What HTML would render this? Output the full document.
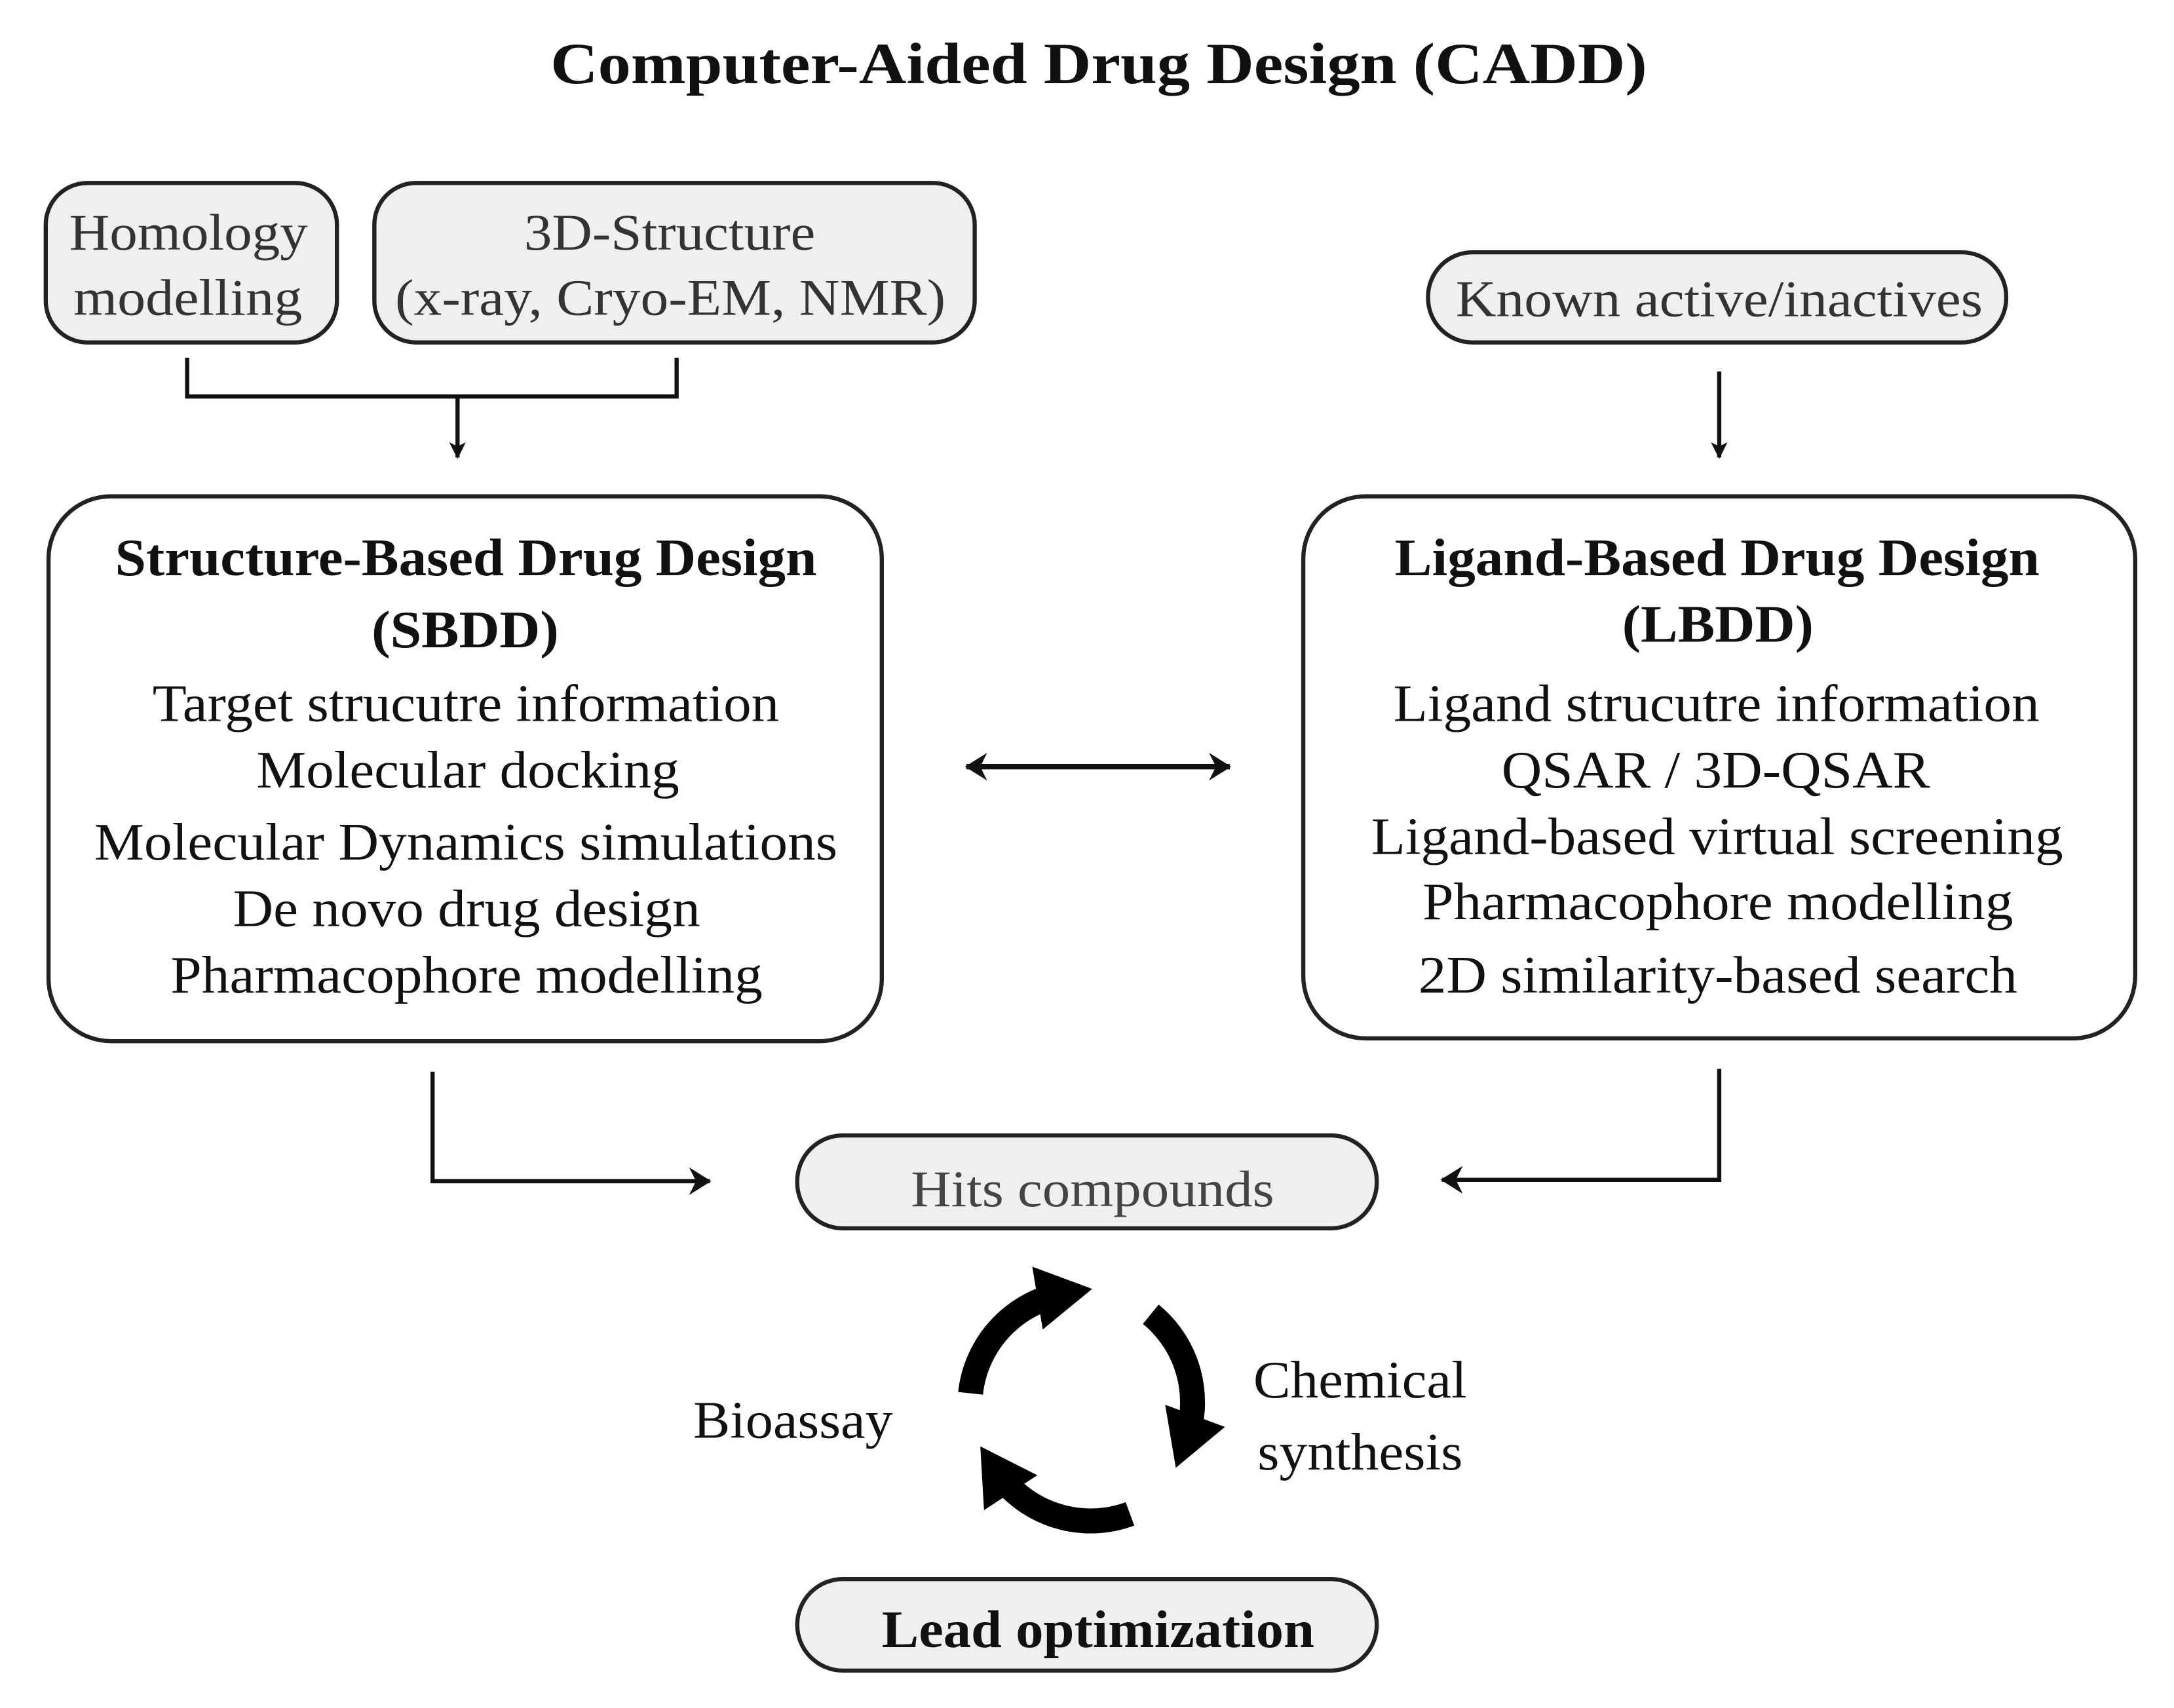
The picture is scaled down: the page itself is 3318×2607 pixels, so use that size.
<!DOCTYPE html>
<html><head><meta charset="utf-8"><style>
html,body{margin:0;padding:0;background:#fff;}
svg{display:block}
text{font-family:"Liberation Serif",serif;}
</style></head><body>
<svg width="3318" height="2607" viewBox="0 0 1568 1232" xmlns="http://www.w3.org/2000/svg">
<defs>
<marker id="a" markerWidth="12" markerHeight="12" refX="11" refY="6" orient="auto" markerUnits="userSpaceOnUse"><path d="M0,0 L12,6 L0,12 L3,6 Z" fill="#111"/></marker>
<marker id="b" markerWidth="16" markerHeight="20" refX="15" refY="10" orient="auto-start-reverse" markerUnits="userSpaceOnUse"><path d="M0,0 L16,10 L0,20 L5,10 Z" fill="#111"/></marker>
<marker id="c" markerWidth="40" markerHeight="46" refX="20" refY="23" orient="auto" markerUnits="userSpaceOnUse"><path d="M0,0 L40,23 L0,46 Z" fill="#000"/></marker>
</defs>
<text x="397" y="60" textLength="791" lengthAdjust="spacingAndGlyphs" font-size="42" font-weight="bold" fill="#111">Computer-Aided Drug Design (CADD)</text>

<g stroke="#222" stroke-width="3" fill="#efefef">
<rect x="33" y="132" width="210" height="115" rx="30"/>
<rect x="270" y="132" width="433" height="115" rx="30"/>
<rect x="1030" y="182" width="417" height="65" rx="32"/>
<rect x="575" y="819" width="418" height="67" rx="33"/>
<rect x="575" y="1139" width="418" height="66" rx="33"/>
</g>
<g stroke="#222" stroke-width="3" fill="#fff">
<rect x="35" y="358" width="601" height="393" rx="45"/>
<rect x="940" y="358" width="600" height="391" rx="45"/>
</g>
<g font-size="37" fill="#333" lengthAdjust="spacingAndGlyphs">
<text x="50" y="180" textLength="172" lengthAdjust="spacingAndGlyphs">Homology</text>
<text x="53" y="227" textLength="165" lengthAdjust="spacingAndGlyphs">modelling</text>
<text x="378" y="180" textLength="210" lengthAdjust="spacingAndGlyphs">3D-Structure</text>
<text x="285" y="227" textLength="397" lengthAdjust="spacingAndGlyphs">(x-ray, Cryo-EM, NMR)</text>
<text x="1050" y="228" textLength="380" lengthAdjust="spacingAndGlyphs">Known active/inactives</text>
<text x="657" y="870" textLength="262" lengthAdjust="spacingAndGlyphs" fill="#444">Hits compounds</text>
</g>
<g font-size="38" fill="#111">
<text x="83" y="415" textLength="506" lengthAdjust="spacingAndGlyphs" font-weight="bold">Structure-Based Drug Design</text>
<text x="268" y="467" textLength="135" lengthAdjust="spacingAndGlyphs" font-weight="bold">(SBDD)</text>
<text x="110" y="520" textLength="452" lengthAdjust="spacingAndGlyphs">Target strucutre information</text>
<text x="185" y="568" textLength="305" lengthAdjust="spacingAndGlyphs">Molecular docking</text>
<text x="68" y="620" textLength="536" lengthAdjust="spacingAndGlyphs">Molecular Dynamics simulations</text>
<text x="168" y="668" textLength="337" lengthAdjust="spacingAndGlyphs">De novo drug design</text>
<text x="123" y="716" textLength="427" lengthAdjust="spacingAndGlyphs">Pharmacophore modelling</text>
<text x="1006" y="415" textLength="465" lengthAdjust="spacingAndGlyphs" font-weight="bold">Ligand-Based Drug Design</text>
<text x="1170" y="463" textLength="138" lengthAdjust="spacingAndGlyphs" font-weight="bold">(LBDD)</text>
<text x="1005" y="520" textLength="466" lengthAdjust="spacingAndGlyphs">Ligand strucutre information</text>
<text x="1083" y="568" textLength="309" lengthAdjust="spacingAndGlyphs">QSAR / 3D-QSAR</text>
<text x="989" y="616" textLength="499" lengthAdjust="spacingAndGlyphs">Ligand-based virtual screening</text>
<text x="1026" y="663" textLength="426" lengthAdjust="spacingAndGlyphs">Pharmacophore modelling</text>
<text x="1023" y="716" textLength="432" lengthAdjust="spacingAndGlyphs">2D similarity-based search</text>
<text x="500" y="1037" textLength="144" lengthAdjust="spacingAndGlyphs">Bioassay</text>
<text x="904" y="1008" textLength="154" lengthAdjust="spacingAndGlyphs">Chemical</text>
<text x="907" y="1060" textLength="148" lengthAdjust="spacingAndGlyphs">synthesis</text>
<text x="636" y="1188" textLength="312" lengthAdjust="spacingAndGlyphs" font-weight="bold">Lead optimization</text>
</g>
<g stroke="#111" stroke-width="3" fill="none">
<path d="M135,258 V286 H488 V258"/>
<path d="M330,286 V330" marker-end="url(#a)"/>
<path d="M1240,268 V330" marker-end="url(#a)"/>
<path d="M697,553 H887" stroke-width="4" marker-start="url(#b)" marker-end="url(#b)"/>
<path d="M312,773 V852 H512" marker-end="url(#b)"/>
<path d="M1240,771 V851 H1040" marker-end="url(#b)"/>
</g>
<g stroke="#000" stroke-width="18" fill="none" stroke-linecap="butt">
<path d="M700,1005 A82,82 0 0 1 768,933" marker-end="url(#c)"/>
<path d="M830,948 A82,82 0 0 1 855,1040" marker-end="url(#c)"/>
<path d="M815,1092 A82,82 0 0 1 718,1060" marker-end="url(#c)"/>
</g>
</svg>
</body></html>
